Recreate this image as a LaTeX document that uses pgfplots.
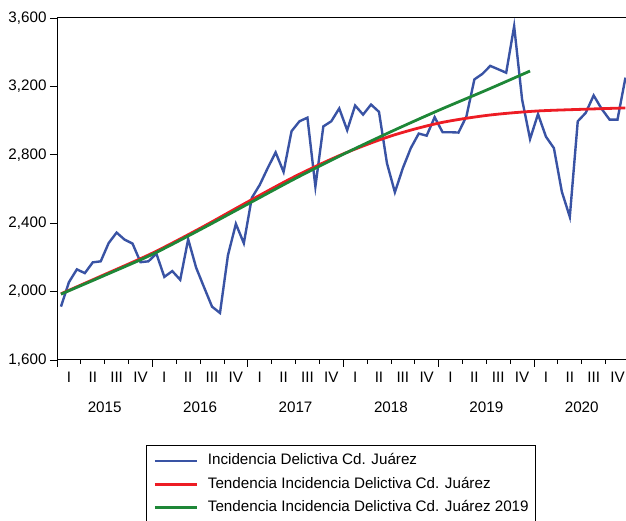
\documentclass[border=0pt]{standalone}
\usepackage{pgfplots}
\pgfplotsset{compat=1.18}
\usepackage{fontspec}
\setmainfont{Liberation Sans}
\definecolor{evblue}{RGB}{57,83,164}
\definecolor{evred}{RGB}{237,28,36}
\definecolor{evgreen}{RGB}{30,135,55}
\begin{document}
\begin{tikzpicture}[font=\fontsize{15.2}{18}\selectfont]
\useasboundingbox (0,0) rectangle (626pt,521pt);
\begin{axis}[
  at={(57pt,161pt)}, anchor=south west,
  scale only axis, width=569pt, height=342pt,
  xmin=0, xmax=71.57, ymin=1600, ymax=3600,
  axis x line*=box, axis y line*=left,
  axis line style={-, line width=1pt, black},
  tick align=outside,
  xtick pos=bottom, ytick pos=left,
  ytick={1600,2000,2400,2800,3200,3600},
  scaled y ticks=false,
  yticklabel style={/pgf/number format/.cd, 1000 sep={,}, assume math mode=true},
  major tick length=7pt, minor tick length=4pt,
  tick style={black, line width=0.8pt},
  xtick={0,12,24,36,48,60},
  xticklabels={},
  minor xtick={3,6,9,15,18,21,27,30,33,39,42,45,51,54,57,63,66,69},
  extra x ticks={1.5,4.5,7.5,10.5,13.5,16.5,19.5,22.5,25.5,28.5,31.5,34.5,37.5,40.5,43.5,46.5,49.5,52.5,55.5,58.5,61.5,64.5,67.5,70.5},
  extra x tick labels={I,II,III,IV,I,II,III,IV,I,II,III,IV,I,II,III,IV,I,II,III,IV,I,II,III,IV},
  extra x tick style={major tick length=0pt, tick label style={yshift=-8.5pt}},
  clip mode=individual,
  legend style={at={(0.1564,-0.2485)}, anchor=north west, draw=black, line width=0.8pt,
    inner xsep=7pt, inner ysep=8.5pt, row sep=9.5pt, column sep=9.7pt,
    nodes={inner sep=0pt, text height=11pt, text depth=3pt, anchor=west}},
  legend cell align=left,
  legend image code/.code={\draw[#1] (0pt,0pt) -- (42pt,0pt);},
]
\addplot[evblue, line width=2.4pt] coordinates {
(0.5,1912) (1.5,2055) (2.5,2130) (3.5,2108) (4.5,2171) (5.5,2177)
(6.5,2284) (7.5,2345) (8.5,2304) (9.5,2281) (10.5,2172) (11.5,2177)
(12.5,2222) (13.5,2086) (14.5,2120) (15.5,2069) (16.5,2306) (17.5,2140)
(18.5,2025) (19.5,1912) (20.5,1875) (21.5,2212) (22.5,2396) (23.5,2283)
(24.5,2548) (25.5,2624) (26.5,2722) (27.5,2814) (28.5,2700) (29.5,2938)
(30.5,2996) (31.5,3017) (32.5,2614) (33.5,2966) (34.5,2996) (35.5,3071)
(36.5,2944) (37.5,3088) (38.5,3035) (39.5,3094) (40.5,3051) (41.5,2751)
(42.5,2581) (43.5,2722) (44.5,2839) (45.5,2924) (46.5,2912) (47.5,3020)
(48.5,2932) (49.5,2932) (50.5,2930) (51.5,3025) (52.5,3241) (53.5,3273)
(54.5,3320) (55.5,3300) (56.5,3280) (57.5,3552) (58.5,3124) (59.5,2892)
(60.5,3038) (61.5,2906) (62.5,2839) (63.5,2584) (64.5,2437) (65.5,2996)
(66.5,3045) (67.5,3147) (68.5,3069) (69.5,3006) (70.5,3006) (71.5,3251)
};
\addlegendentry{Incidencia Delictiva Cd. Juárez}
\addplot[evred, line width=2.8pt, smooth] coordinates {
(0.5,1987) (6,2100) (12,2225) (18,2370) (24,2525) (30,2675) (36,2805)
(42,2910) (48,2985) (54,3030) (60,3055) (66,3066) (71.5,3074)
};
\addlegendentry{Tendencia Incidencia Delictiva Cd. Juárez}
\addplot[evgreen, line width=2.8pt, smooth] coordinates {
(0.5,1985) (6,2095) (12,2218) (18,2362) (24,2512) (30,2662) (36,2803)
(42,2935) (48,3060) (54,3178) (59.5,3290)
};
\addlegendentry{Tendencia Incidencia Delictiva Cd. Juárez 2019}
\node[anchor=north, inner sep=0pt, yshift=-42pt] at (axis cs:6,1600) {2015};
\node[anchor=north, inner sep=0pt, yshift=-42pt] at (axis cs:18,1600) {2016};
\node[anchor=north, inner sep=0pt, yshift=-42pt] at (axis cs:30,1600) {2017};
\node[anchor=north, inner sep=0pt, yshift=-42pt] at (axis cs:42,1600) {2018};
\node[anchor=north, inner sep=0pt, yshift=-42pt] at (axis cs:54,1600) {2019};
\node[anchor=north, inner sep=0pt, yshift=-42pt] at (axis cs:66,1600) {2020};
\end{axis}
\end{tikzpicture}
\end{document}
